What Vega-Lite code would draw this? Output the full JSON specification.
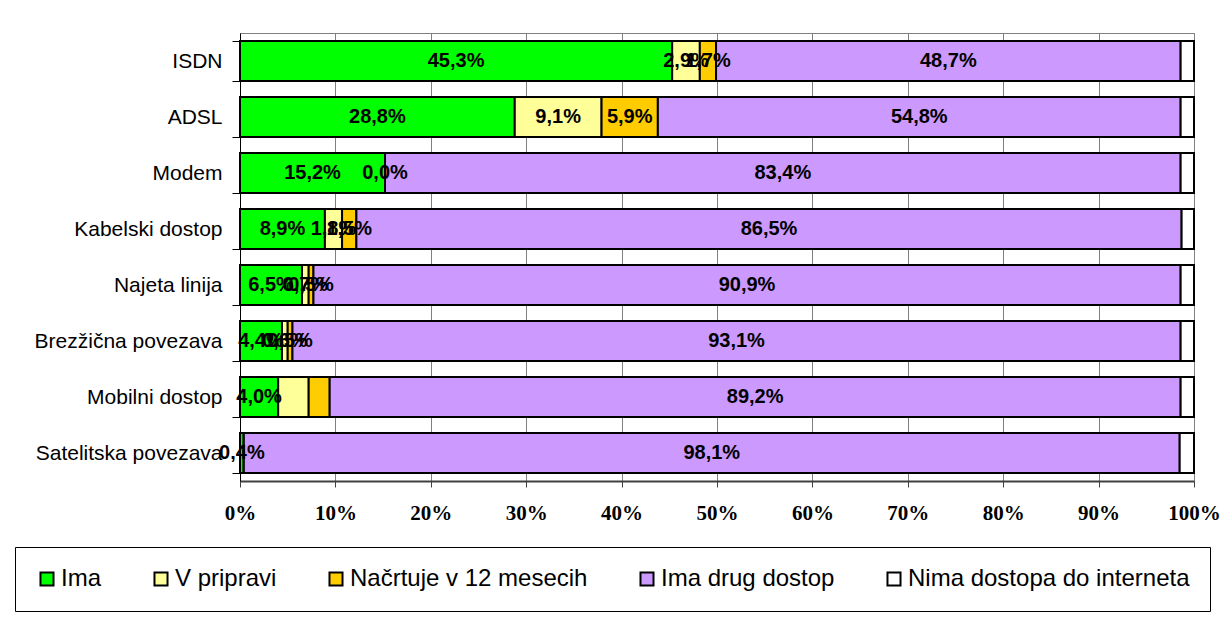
{
  "$schema": "https://vega.github.io/schema/vega-lite/v6.json",
  "width": 954,
  "height": 448,
  "autosize": {"type": "none"},
  "padding": {"left": 240, "top": 33, "right": 30, "bottom": 160},
  "background": "white",
  "data": {
    "values": [
      {"cat": "ISDN", "s": "Ima", "k": 1, "v": 0.453, "lab": true},
      {"cat": "ISDN", "s": "V pripravi", "k": 2, "v": 0.029, "lab": true},
      {"cat": "ISDN", "s": "Načrtuje v 12 mesecih", "k": 3, "v": 0.017, "lab": true},
      {"cat": "ISDN", "s": "Ima drug dostop", "k": 4, "v": 0.487, "lab": true},
      {"cat": "ISDN", "s": "Nima dostopa do interneta", "k": 5, "v": 0.014, "lab": false},
      {"cat": "ADSL", "s": "Ima", "k": 1, "v": 0.288, "lab": true},
      {"cat": "ADSL", "s": "V pripravi", "k": 2, "v": 0.091, "lab": true},
      {"cat": "ADSL", "s": "Načrtuje v 12 mesecih", "k": 3, "v": 0.059, "lab": true},
      {"cat": "ADSL", "s": "Ima drug dostop", "k": 4, "v": 0.548, "lab": true},
      {"cat": "ADSL", "s": "Nima dostopa do interneta", "k": 5, "v": 0.014, "lab": false},
      {"cat": "Modem", "s": "Ima", "k": 1, "v": 0.152, "lab": true},
      {"cat": "Modem", "s": "V pripravi", "k": 2, "v": 0.0, "lab": true},
      {"cat": "Modem", "s": "Načrtuje v 12 mesecih", "k": 3, "v": 0.0, "lab": false},
      {"cat": "Modem", "s": "Ima drug dostop", "k": 4, "v": 0.834, "lab": true},
      {"cat": "Modem", "s": "Nima dostopa do interneta", "k": 5, "v": 0.014, "lab": false},
      {"cat": "Kabelski dostop", "s": "Ima", "k": 1, "v": 0.089, "lab": true},
      {"cat": "Kabelski dostop", "s": "V pripravi", "k": 2, "v": 0.018, "lab": true},
      {"cat": "Kabelski dostop", "s": "Načrtuje v 12 mesecih", "k": 3, "v": 0.015, "lab": true},
      {"cat": "Kabelski dostop", "s": "Ima drug dostop", "k": 4, "v": 0.865, "lab": true},
      {"cat": "Kabelski dostop", "s": "Nima dostopa do interneta", "k": 5, "v": 0.013, "lab": false},
      {"cat": "Najeta linija", "s": "Ima", "k": 1, "v": 0.065, "lab": true},
      {"cat": "Najeta linija", "s": "V pripravi", "k": 2, "v": 0.007, "lab": true},
      {"cat": "Najeta linija", "s": "Načrtuje v 12 mesecih", "k": 3, "v": 0.005, "lab": true},
      {"cat": "Najeta linija", "s": "Ima drug dostop", "k": 4, "v": 0.909, "lab": true},
      {"cat": "Najeta linija", "s": "Nima dostopa do interneta", "k": 5, "v": 0.014, "lab": false},
      {"cat": "Brezžična povezava", "s": "Ima", "k": 1, "v": 0.044, "lab": true},
      {"cat": "Brezžična povezava", "s": "V pripravi", "k": 2, "v": 0.006, "lab": true},
      {"cat": "Brezžična povezava", "s": "Načrtuje v 12 mesecih", "k": 3, "v": 0.005, "lab": true},
      {"cat": "Brezžična povezava", "s": "Ima drug dostop", "k": 4, "v": 0.931, "lab": true},
      {"cat": "Brezžična povezava", "s": "Nima dostopa do interneta", "k": 5, "v": 0.014, "lab": false},
      {"cat": "Mobilni dostop", "s": "Ima", "k": 1, "v": 0.040, "lab": true},
      {"cat": "Mobilni dostop", "s": "V pripravi", "k": 2, "v": 0.032, "lab": false},
      {"cat": "Mobilni dostop", "s": "Načrtuje v 12 mesecih", "k": 3, "v": 0.022, "lab": false},
      {"cat": "Mobilni dostop", "s": "Ima drug dostop", "k": 4, "v": 0.892, "lab": true},
      {"cat": "Mobilni dostop", "s": "Nima dostopa do interneta", "k": 5, "v": 0.014, "lab": false},
      {"cat": "Satelitska povezava", "s": "Ima", "k": 1, "v": 0.004, "lab": true},
      {"cat": "Satelitska povezava", "s": "V pripravi", "k": 2, "v": 0.0, "lab": false},
      {"cat": "Satelitska povezava", "s": "Načrtuje v 12 mesecih", "k": 3, "v": 0.0, "lab": false},
      {"cat": "Satelitska povezava", "s": "Ima drug dostop", "k": 4, "v": 0.981, "lab": true},
      {"cat": "Satelitska povezava", "s": "Nima dostopa do interneta", "k": 5, "v": 0.015, "lab": false}
    ]
  },
  "encoding": {
    "y": {
      "field": "cat",
      "type": "nominal",
      "sort": ["ISDN", "ADSL", "Modem", "Kabelski dostop", "Najeta linija", "Brezžična povezava", "Mobilni dostop", "Satelitska povezava"],
      "scale": {"paddingInner": 0.29, "paddingOuter": 0.145},
      "axis": {
        "title": null,
        "domainColor": "black",
        "domainWidth": 1,
        "tickColor": "black",
        "tickSize": 8,
        "tickBand": "extent",
        "labelFont": "Liberation Sans",
        "labelFontSize": 21,
        "labelColor": "black",
        "labelPadding": 10,
        "labelLimit": 400,
        "grid": false
      }
    }
  },
  "layer": [
    {
      "mark": {"type": "bar", "stroke": "black", "strokeWidth": 2},
      "encoding": {
        "x": {
          "field": "v",
          "type": "quantitative",
          "stack": "zero",
          "scale": {"domain": [0, 1], "nice": false},
          "axis": {
            "title": null,
            "format": "%",
            "values": [0, 0.1, 0.2, 0.3, 0.4, 0.5, 0.6, 0.7, 0.8, 0.9, 1],
            "grid": true,
            "gridColor": "#808080",
            "gridWidth": 1,
            "domainColor": "#404040",
            "domainWidth": 2,
            "tickColor": "#404040",
            "tickSize": 6,
            "labelFont": "Liberation Serif",
            "labelFontWeight": "bold",
            "labelFontSize": 21,
            "labelColor": "black",
            "labelPadding": 15,
            "labelFlush": false,
            "labelOverlap": false
          }
        },
        "color": {
          "field": "s",
          "type": "nominal",
          "scale": {
            "domain": ["Ima", "V pripravi", "Načrtuje v 12 mesecih", "Ima drug dostop", "Nima dostopa do interneta"],
            "range": ["#00FF00", "#FFFF99", "#FFCC00", "#CC99FF", "#FFFFFF"]
          },
          "legend": {
            "title": null,
            "orient": "none",
            "legendX": -225,
            "legendY": 514,
            "direction": "horizontal",
            "symbolType": "square",
            "symbolSize": 170,
            "symbolStrokeColor": "black",
            "symbolStrokeWidth": 2,
            "labelFont": "Liberation Sans",
            "labelFontSize": 24,
            "labelColor": "black",
            "labelLimit": 500,
            "labelOffset": 2,
            "columnPadding": 47,
            "padding": 20,
            "strokeColor": "black",
            "fillColor": "white"
          }
        },
        "order": {"field": "k", "type": "quantitative"}
      }
    },
    {
      "transform": [
        {"stack": "v", "groupby": ["cat"], "sort": [{"field": "k", "order": "ascending"}], "as": ["x0", "x1"]},
        {"calculate": "(datum.x0 + datum.x1) / 2", "as": "mid"},
        {"filter": "datum.lab"}
      ],
      "mark": {"type": "text", "font": "Liberation Sans", "fontWeight": "bold", "fontSize": 20, "color": "black", "align": "center", "baseline": "middle"},
      "encoding": {
        "x": {"field": "mid", "type": "quantitative"},
        "text": {"field": "v", "type": "quantitative", "format": ".1%"}
      }
    }
  ],
  "config": {
    "locale": {"number": {"decimal": ",", "thousands": ".", "grouping": [3], "currency": ["", " €"]}},
    "view": {"stroke": "#808080", "strokeWidth": 1}
  }
}
